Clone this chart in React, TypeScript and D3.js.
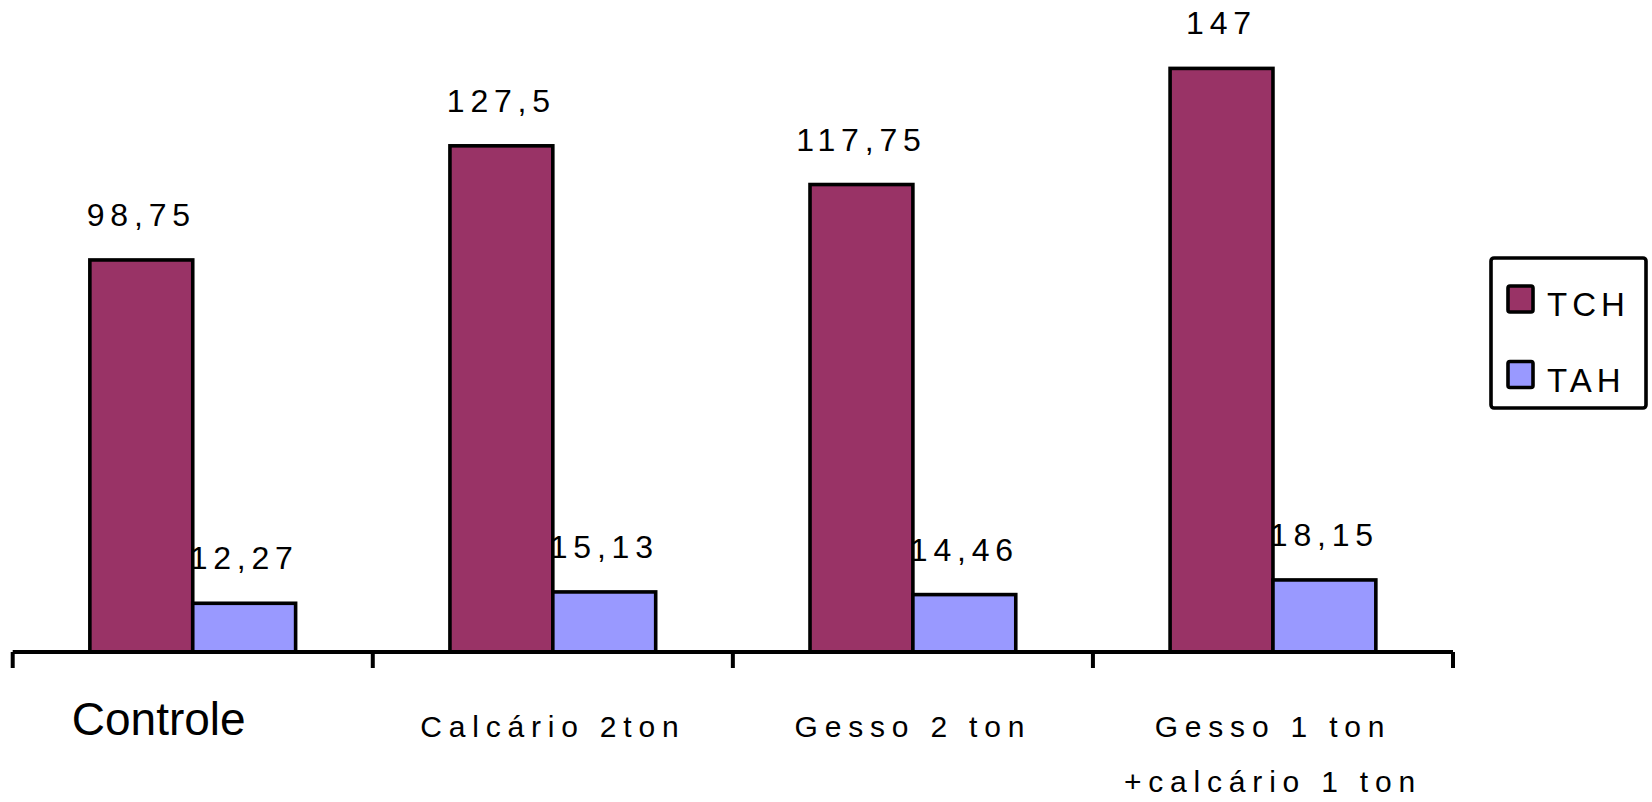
import React from "react";
import * as d3 from "d3";

// Tratamentos (eixo X)
const categories = ["Controle", "Calcário 2ton", "Gesso 2 ton", "Gesso 1 ton\n+calcário 1 ton"];
// Séries
const seriesNames = ["TCH", "TAH"];
const tchValues = [98.75, 127.5, 117.75, 147];
const tahValues = [12.27, 15.13, 14.46, 18.15];
const tchLabels = ["98,75", "127,5", "117,75", "147"];
const tahLabels = ["12,27", "15,13", "14,46", "18,15"];
const seriesColors = ["#993366", "#9999FF"];

const W = 1652;
const H = 802;
const FONT = "'Liberation Sans', Arial, Helvetica, sans-serif";

export default function App() {
  const x0 = d3.scaleBand<string>().domain(categories).range([12.7, 1453]).paddingInner(0).paddingOuter(0);
  const x1 = d3.scaleBand<string>().domain(seriesNames).range([0, x0.bandwidth()]).paddingInner(0).paddingOuter(0.75);
  const y = d3.scaleLinear().domain([0, 160]).range([652, 16.8]);

  const values = [tchValues, tahValues];
  const labels = [tchLabels, tahLabels];
  const ticks = [...categories.map((c) => x0(c) as number), 1453];

  return (
    <svg width={W} height={H} style={{ position: "absolute", left: 0, top: 0, background: "#fff" }}>
      {/* barras */}
      {categories.map((c, i) => (
        <g key={c} transform={`translate(${x0(c)},0)`}>
          {seriesNames.map((s, k) => {
            const v = values[k][i];
            return (
              <rect
                key={s}
                x={x1(s)}
                y={y(v)}
                width={x1.bandwidth()}
                height={y(0) - y(v)}
                fill={seriesColors[k]}
                stroke="#000"
                strokeWidth={3.6}
              />
            );
          })}
          {seriesNames.map((s, k) => {
            const v = values[k][i];
            return (
              <text
                key={s + "l"}
                x={(x1(s) as number) + x1.bandwidth() / 2}
                y={y(v) - 34}
                textAnchor="middle"
                fontFamily={FONT}
                fontSize={32}
                letterSpacing={5.8}
                fill="#000"
              >
                {labels[k][i]}
              </text>
            );
          })}
        </g>
      ))}

      {/* eixo X */}
      <line x1={ticks[0]} x2={ticks[ticks.length - 1]} y1={y(0)} y2={y(0)} stroke="#000" strokeWidth={4} />
      {ticks.map((t, i) => (
        <line key={i} x1={t} x2={t} y1={y(0)} y2={y(0) + 16} stroke="#000" strokeWidth={4} />
      ))}

      {/* rótulos das categorias */}
      {categories.map((c, i) => {
        const cx = (x0(c) as number) + x0.bandwidth() / 2;
        if (i === 0) {
          return (
            <text key={c} x={cx - 34} y={735} textAnchor="middle" fontFamily={FONT} fontSize={46} fill="#000">
              {c}
            </text>
          );
        }
        return c.split("\n").map((line, j) => (
          <text
            key={c + j}
            x={cx}
            y={737 + j * 55}
            textAnchor="middle"
            fontFamily={FONT}
            fontSize={30}
            letterSpacing={6.8}
            fill="#000"
          >
            {line}
          </text>
        ));
      })}

      {/* legenda */}
      <rect x={1491} y={258} width={155} height={150} rx={3} fill="#fff" stroke="#000" strokeWidth={3.6} />
      {seriesNames.map((s, k) => (
        <g key={s} transform={`translate(0,${k * 75.5})`}>
          <rect x={1508} y={286} width={25} height={26} rx={2} fill={seriesColors[k]} stroke="#000" strokeWidth={3.6} />
          <text x={1547} y={316} fontFamily={FONT} fontSize={33} letterSpacing={5} fill="#000">
            {s}
          </text>
        </g>
      ))}
    </svg>
  );
}
